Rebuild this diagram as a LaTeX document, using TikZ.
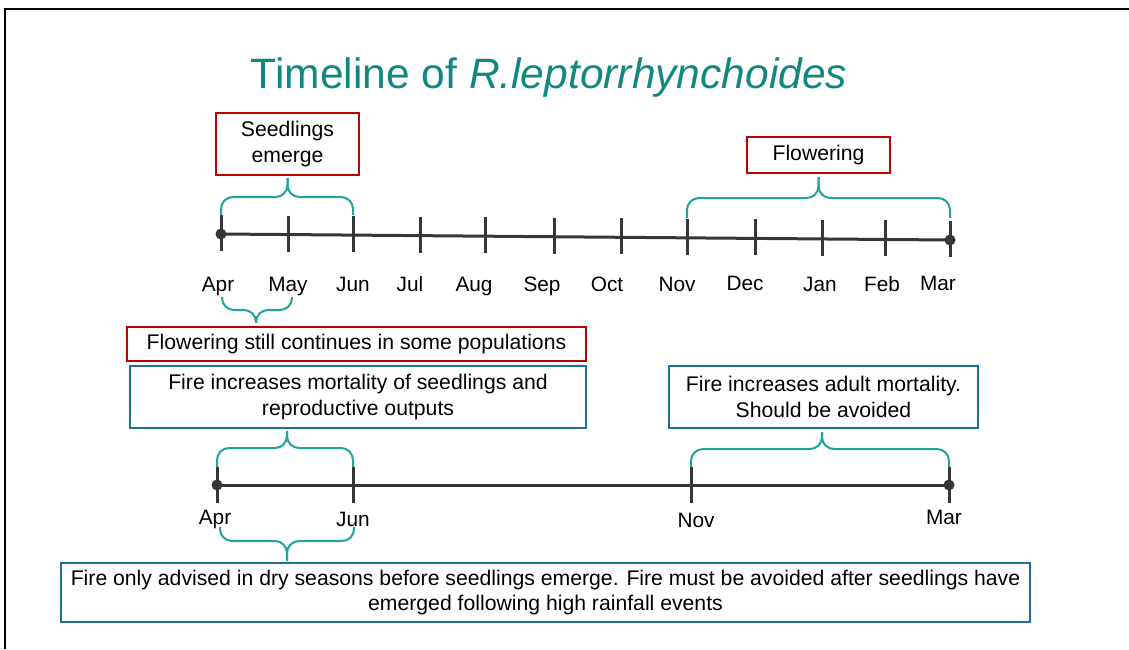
\documentclass[tikz,border=0pt]{standalone}
\usepackage{fontspec}
\setmainfont{Liberation Sans}
\usetikzlibrary{calc}
\definecolor{titleteal}{RGB}{17,135,130}
\definecolor{braceteal}{RGB}{29,164,156}
\definecolor{boxred}{RGB}{192,0,0}
\definecolor{boxblue}{RGB}{31,110,158}
\definecolor{axisgray}{RGB}{55,55,55}
\begin{document}
\begin{tikzpicture}[x=1pt,y=-1pt,
  redbox/.style={draw=boxred,line width=2.2pt,fill=white,align=center,inner sep=0pt,font=\fontsize{21.2}{26}\selectfont},
  bluebox/.style={draw=boxblue,line width=2.2pt,fill=white,align=center,inner sep=0pt,font=\fontsize{21.2}{26}\selectfont},
  monthlab/.style={font=\fontsize{20.8}{24}\selectfont,inner sep=0pt,anchor=base},
  axisline/.style={draw=axisgray,line width=3pt},
  tickline/.style={draw=axisgray,line width=3pt},
  bracestyle/.style={draw=braceteal,line width=2pt,rounded corners=12pt},
  dotstyle/.style={fill=axisgray}
]
\useasboundingbox (0,0) rectangle (1129,649);
% frame
\draw[line width=2.5pt] (5,649) -- (5,9) -- (1135,9);

% title
\node[text=titleteal,font=\fontsize{42.5}{50}\selectfont,inner sep=0pt,anchor=base] (title) at (549,88) {Timeline of \textit{R.leptorrhynchoides}};

% boxes
\node[redbox,minimum width=143pt,minimum height=62pt] (seed) at (287.5,144) {Seedlings\\emerge};
\node[redbox,minimum width=143pt,minimum height=36pt] (flow) at (818.5,155) {Flowering};
\node[redbox,minimum width=459pt,minimum height=34pt] (still) at (356.5,344) {Flowering still continues in some populations};
\node[bluebox,minimum width=456pt,minimum height=62pt] (fire1) at (358,397) {Fire increases mortality of seedlings and\\reproductive outputs};
\node[bluebox,minimum width=309pt,minimum height=62pt] (fire2) at (823.5,397) {Fire increases adult mortality.\\Should be avoided};
\node[bluebox,minimum width=969pt,minimum height=59pt,font=\fontsize{21.2}{25}\selectfont] (advice) at (545.5,592.5) {Fire only advised in dry seasons before seedlings emerge. Fire must be avoided after seedlings have\\emerged following high rainfall events};

% top timeline
\coordinate (t1) at (221,234);
\coordinate (t2) at (288,234.6);
\coordinate (t3) at (353,235.1);
\coordinate (t4) at (420,235.6);
\coordinate (t5) at (485,236.2);
\coordinate (t6) at (554,236.7);
\coordinate (t7) at (621,237.3);
\coordinate (t8) at (687,237.8);
\coordinate (t9) at (755,238.4);
\coordinate (t10) at (822,238.9);
\coordinate (t11) at (885,239.4);
\coordinate (t12) at (950,240);
\draw[axisline] (t1) -- (t12);
\foreach \i in {1,...,12}{
  \draw[tickline] ($(t\i)+(0,-19)$) -- ($(t\i)+(0,17)$);
}
\fill[dotstyle] (t1) circle (5.5);
\fill[dotstyle] (t12) circle (5.5);

\node[monthlab] (mApr) at (218,291) {Apr};
\node[monthlab] (mMay) at (288,291) {May};
\node[monthlab] (mJun) at (353,291) {Jun};
\node[monthlab] (mJul) at (410,291) {Jul};
\node[monthlab] (mAug) at (474,291) {Aug};
\node[monthlab] (mSep) at (542,291) {Sep};
\node[monthlab] (mOct) at (607,291) {Oct};
\node[monthlab] (mNov) at (677,291) {Nov};
\node[monthlab] (mDec) at (745,290) {Dec};
\node[monthlab] (mJan) at (820,291) {Jan};
\node[monthlab] (mFeb) at (882,291) {Feb};
\node[monthlab] (mMar) at (938,290) {Mar};

% bottom timeline
\coordinate (b1) at (217,485);
\coordinate (b2) at (353,485);
\coordinate (b3) at (691,485);
\coordinate (b4) at (949,485);
\draw[axisline] (b1) -- (b4);
\foreach \i in {1,...,4}{
  \draw[tickline] ($(b\i)+(0,-18)$) -- ($(b\i)+(0,18)$);
}
\fill[dotstyle] (b1) circle (5.5);
\fill[dotstyle] (b4) circle (5.5);
\node[monthlab] (nApr) at (215,524) {Apr};
\node[monthlab] (nJun) at (353,526) {Jun};
\node[monthlab] (nNov) at (696,527) {Nov};
\node[monthlab] (nMar) at (944,524) {Mar};

% braces: left end, right end, tip, horizontal level
\newcommand\drawmybrace[4]{%
  \draw[bracestyle] (#1) -- (#1 |- #4) -- (#3 |- #4) -- (#3);
  \draw[bracestyle] (#2) -- (#2 |- #4) -- (#3 |- #4) -- (#3);
}
\coordinate (A1) at (221,215); \coordinate (A2) at (353,215);
\coordinate (AT) at ($(seed.south)+(0,2)$); \coordinate (AM) at (0,197);
\drawmybrace{A1}{A2}{AT}{AM}
\coordinate (B1) at (687,218); \coordinate (B2) at (950,218);
\coordinate (BT) at ($(flow.south)+(0,3)$); \coordinate (BM) at (0,198);
\drawmybrace{B1}{B2}{BT}{BM}
\coordinate (C1) at (222,297); \coordinate (C2) at (292,297);
\coordinate (CT) at ($(still.north)+(-100.5,-3)$); \coordinate (CM) at (0,310);
\drawmybrace{C1}{C2}{CT}{CM}
\coordinate (D1) at (217,467); \coordinate (D2) at (353,467);
\coordinate (DT) at (287,431); \coordinate (DM) at (0,448);
\drawmybrace{D1}{D2}{DT}{DM}
\coordinate (E1) at (691,467); \coordinate (E2) at (949,467);
\coordinate (ET) at ($(fire2.south)+(-1.5,3)$); \coordinate (EM) at (0,449);
\drawmybrace{E1}{E2}{ET}{EM}
\coordinate (F1) at (220,527); \coordinate (F2) at (354,527);
\coordinate (FT) at (287,561); \coordinate (FM) at (0,541);
\drawmybrace{F1}{F2}{FT}{FM}
\end{tikzpicture}
\end{document}
